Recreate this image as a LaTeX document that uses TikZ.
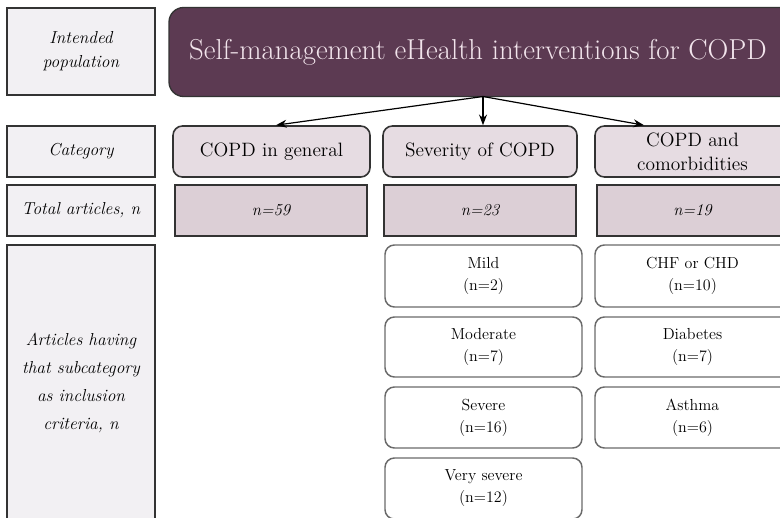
\documentclass[tikz,border=0pt]{standalone}
\usetikzlibrary{arrows.meta}
\definecolor{plum}{HTML}{5C3A52}
\definecolor{plumtext}{HTML}{F2E4EC}
\definecolor{catfill}{HTML}{E6DCE2}
\definecolor{totfill}{HTML}{DCCFD6}
\definecolor{lblfill}{HTML}{F2F0F3}
\definecolor{edge}{HTML}{333333}
\definecolor{subedge}{HTML}{6A6A6A}
\begin{document}
\begin{tikzpicture}[x=0.75pt,y=-0.75pt,
  lbl/.style={draw=edge,line width=1.6pt,fill=lblfill,minimum width=148*0.75pt,
    align=center,font=\itshape\fontsize{13}{18}\selectfont,inner sep=0pt},
  cat/.style={draw=edge,line width=1.2pt,fill=catfill,rounded corners=7pt,
    align=center,font=\fontsize{14.5}{18}\selectfont,inner sep=0pt,
    minimum height=51*0.75pt},
  tot/.style={draw=edge,line width=1.6pt,fill=totfill,inner sep=0pt,
    font=\itshape\fontsize{12.5}{14}\selectfont,minimum height=51*0.75pt},
  sub/.style={draw=subedge,line width=1.1pt,fill=white,rounded corners=7pt,
    align=center,font=\fontsize{12}{16.5}\selectfont,inner sep=0pt},
  arr/.style={line width=0.9pt,-{Stealth[length=8pt,width=6pt]}}]
\useasboundingbox (0,0) rectangle (780,517);

% row labels on the left
\node[lbl,minimum height=87*0.75pt] (lpop) at (81,51.5) {Intended\\population};
\node[lbl,minimum height=51*0.75pt] (lcat) at (81,151.5) {Category};
\node[lbl,minimum height=51*0.75pt] (ltot) at (81,210.5) {Total articles, \textit{n}};
\node[lbl,minimum height=275*0.75pt,font=\itshape\fontsize{13}{21}\selectfont] (lsub) at (81,382.5)
  {Articles having\\that subcategory\\as inclusion\\criteria, \textit{n}};

% title box, running off the right edge, and its text
\node[fill=plum,draw=edge,line width=1pt,rounded corners=11pt,
  minimum width=660*0.75pt,minimum height=89*0.75pt] (title) at (499,52) {};
\node[text=plumtext,font=\fontsize{21.6}{24}\selectfont] (titletext) at (478,52)
  {Self-management eHealth interventions for COPD};
\coordinate (hub) at (483,96.5);

% categories
\node[cat,minimum width=197*0.75pt] (cgen) at (271.5,151.5) {COPD in general};
\node[cat,minimum width=194*0.75pt] (csev) at (480,151.5) {Severity of COPD};
\node[cat,minimum width=195*0.75pt] (ccom) at (692.5,151.5) {COPD and\\comorbidities};

% totals
\node[tot,minimum width=192*0.75pt] (tgen) at (271,210.5) {n=59};
\node[tot,minimum width=192*0.75pt] (tsev) at (480,210.5) {n=23};
\node[tot,minimum width=191*0.75pt] (tcom) at (692.5,210.5) {n=19};

% subcategories: severity
\node[sub,minimum width=197*0.75pt,minimum height=62*0.75pt] (mild) at (483.5,276) {Mild\\(n=2)};
\node[sub,minimum width=197*0.75pt,minimum height=60*0.75pt] (mod) at (483.5,347) {Moderate\\(n=7)};
\node[sub,minimum width=197*0.75pt,minimum height=61*0.75pt] (sev) at (483.5,417.5) {Severe\\(n=16)};
\node[sub,minimum width=197*0.75pt,minimum height=61*0.75pt] (vsev) at (483.5,488.5) {Very severe\\(n=12)};

% subcategories: comorbidities
\node[sub,minimum width=195*0.75pt,minimum height=62*0.75pt] (chf) at (692.5,276) {CHF or CHD\\(n=10)};
\node[sub,minimum width=195*0.75pt,minimum height=60*0.75pt] (dia) at (692.5,347) {Diabetes\\(n=7)};
\node[sub,minimum width=195*0.75pt,minimum height=61*0.75pt] (ast) at (692.5,417.5) {Asthma\\(n=6)};

% connectors from the title
\draw[arr] (hub) -- (cgen.north -| 276,0);
\draw[arr] (hub) -- (csev.north -| hub);
\draw[arr] (hub) -- (ccom.north -| 644,0);
\end{tikzpicture}
\end{document}
